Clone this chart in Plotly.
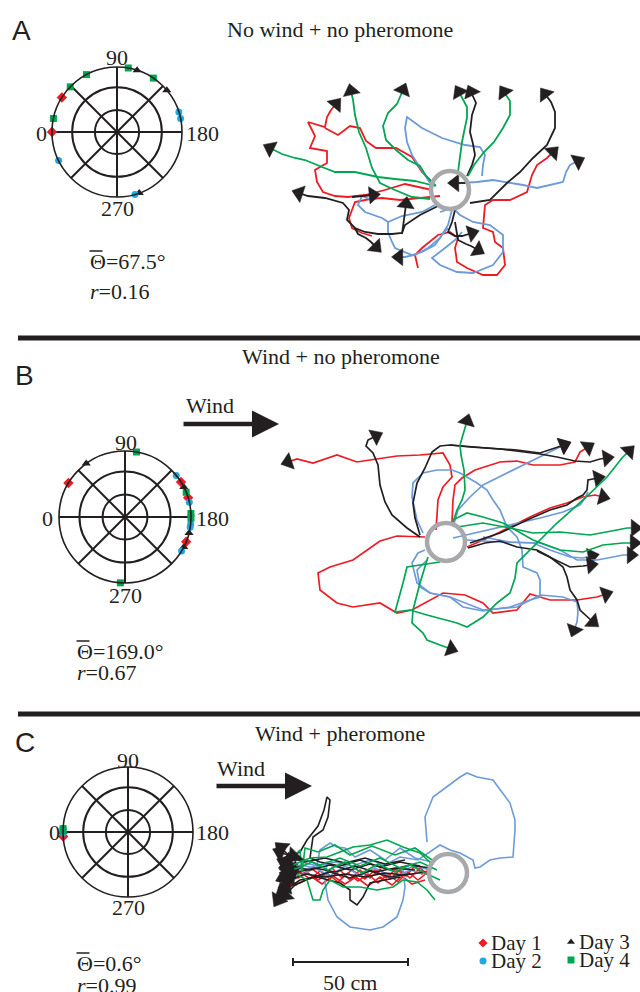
import plotly.graph_objects as go

# ---------------- colours ----------------
RED = '#ed1c24'
CYAN = '#1fa9e1'
BLUE = '#6c9bd7'
GREEN = '#00a651'
BLACK = '#231f20'
GRAY = '#a7a9ac'

# ---------------- polar data (vanishing angles, degrees) ----------------
A_day1 = [32, 0]
A_day2 = [162, 168, 334, 254]
A_day3 = [108, 140, 1, 250]
A_day4 = [100, 124, 62, 44, 12]

B_day1 = [31, 148, 163, 202]
B_day2 = [141, 167, 186, 189, 211]
B_day3 = [54, 153, 194, 207]
B_day4 = [100, 158, 177, 181, 274]

C_day1 = [356]
C_day2 = [359]
C_day3 = [0]
C_day4 = [3, 1]

stats_A = ['67.5', '0.16']
stats_B = ['169.0', '0.67']
stats_C = ['0.6', '0.99']

titles = ['No wind + no pheromone', 'Wind + no pheromone', 'Wind + pheromone']
angle_ticks = [0, 45, 90, 135, 180, 225, 270, 315]
angle_labels = ['0', '90', '180', '270']

# ---------------- trajectories (page-pixel coordinates, arrow flag) ----------------
A_red = [
    ([(432, 190), (405, 184), (385, 190), (365, 195), (348, 197), (335, 196), (323, 192), (317, 182),
      (315, 170), (327, 163), (327, 151), (310, 148), (315, 136), (308, 122), (325, 127), (327, 117),
      (331, 110), (336, 104)], True),
    ([(433, 183), (422, 172), (412, 157), (396, 148), (376, 148), (366, 141), (360, 128), (350, 126),
      (338, 135), (325, 128)], False),
    ([(418, 268), (415, 255), (422, 248), (438, 235), (450, 232), (458, 238), (455, 248), (457, 262),
      (467, 268), (483, 275), (497, 275), (505, 265), (503, 248), (495, 242), (493, 232), (483, 228),
      (485, 205), (493, 200), (510, 200), (527, 192), (532, 175), (537, 165), (547, 158), (553, 152)], True),
    ([(440, 196), (420, 198), (400, 200), (382, 198), (370, 199), (355, 202), (352, 210), (349, 218),
      (352, 228), (362, 233), (372, 236)], False),
]
A_blue = [
    ([(460, 183), (477, 182), (493, 180), (507, 182), (523, 185), (537, 188), (550, 185), (563, 182),
      (566, 172), (570, 165), (578, 161)], True),
    ([(430, 183), (425, 175), (418, 165), (412, 155), (407, 142), (405, 128), (407, 117), (422, 128),
      (442, 138), (455, 142), (465, 145), (480, 147), (485, 155), (483, 165), (482, 176)], False),
    ([(440, 212), (453, 208), (460, 215), (473, 222), (490, 225), (503, 235), (503, 252), (493, 265),
      (473, 273), (457, 272), (440, 265), (432, 258), (445, 248), (455, 240), (462, 232)], False),
    ([(435, 205), (422, 212), (402, 216), (388, 222), (382, 218), (365, 212), (358, 205), (362, 196),
      (372, 200)], False),
    ([(448, 228), (442, 235), (435, 245), (422, 252), (412, 255), (395, 248), (392, 242), (388, 232),
      (388, 222)], False),
    ([(452, 210), (448, 225), (440, 238), (428, 248), (415, 255), (405, 257), (399, 257)], True),
]
A_black = [
    ([(467, 176), (472, 165), (475, 155), (473, 144), (470, 132), (472, 115), (476, 103), (471, 92)], True),
    ([(470, 203), (490, 200), (507, 183), (520, 172), (533, 158), (547, 145), (555, 128), (555, 112),
      (551, 102), (545, 94)], True),
    ([(440, 205), (420, 215), (405, 225), (402, 233), (392, 234), (378, 234), (365, 232), (355, 228),
      (347, 220), (349, 210), (343, 203), (325, 198), (308, 196), (299, 193)], True),
    ([(355, 228), (358, 234), (366, 238), (371, 242), (376, 247)], True),
    ([(455, 210), (452, 222), (448, 232), (455, 236), (462, 236), (472, 233)], True),
    ([(455, 222), (458, 240), (466, 244), (471, 246), (478, 250)], True),
    ([(470, 183), (462, 183), (455, 183)], True),
    ([(352, 197), (362, 196), (373, 195)], True),
    ([(402, 234), (404, 222), (405, 212), (406, 204)], True),
]
A_green = [
    ([(435, 186), (415, 181), (395, 179), (378, 177), (355, 172), (335, 172), (322, 167), (305, 160),
      (295, 158), (282, 154), (270, 148)], True),
    ([(430, 199), (412, 197), (395, 190), (380, 183), (372, 168), (366, 148), (359, 132), (355, 115),
      (353, 100), (351, 91)], True),
    ([(436, 186), (426, 176), (420, 166), (408, 160), (396, 150), (386, 140), (383, 126), (388, 113),
      (397, 104), (400, 97), (403, 90)], True),
    ([(458, 172), (460, 156), (462, 142), (464, 132), (467, 118), (467, 107), (463, 99), (459, 92)], True),
    ([(468, 176), (474, 165), (484, 152), (494, 142), (503, 128), (510, 115), (510, 101), (504, 92)], True),
]

B_red = [
    ([(436, 530), (437, 518), (438, 500), (443, 487), (452, 477), (450, 465), (443, 453), (420, 455),
      (397, 456), (370, 460), (357, 462), (337, 455), (313, 463), (297, 459), (288, 462)], True),
    ([(425, 537), (397, 536), (380, 541), (353, 560), (330, 567), (318, 573), (320, 590), (337, 603),
      (353, 607), (380, 603), (397, 613), (412, 610), (443, 593), (465, 595), (483, 603), (493, 613),
      (517, 610), (530, 594), (550, 600), (577, 600), (597, 597), (606, 594)], True),
    ([(452, 522), (453, 500), (455, 485), (462, 478), (475, 470), (500, 462), (517, 461), (533, 465),
      (560, 465), (575, 462), (580, 452), (588, 447)], True),
    ([(467, 547), (490, 537), (510, 527), (530, 517), (550, 508), (567, 503), (583, 497), (595, 495),
      (603, 497)], True),
]
B_blue = [
    ([(423, 533), (417, 520), (412, 497), (413, 483), (423, 473), (437, 470), (452, 470), (460, 473),
      (477, 483), (487, 490), (493, 500), (500, 510), (507, 527), (517, 537), (522, 550), (523, 567),
      (537, 573), (540, 580), (540, 597), (530, 600), (510, 607), (483, 611), (463, 607), (450, 597),
      (430, 593), (417, 583), (412, 563), (418, 553), (425, 550)], False),
    ([(453, 527), (458, 510), (470, 497), (483, 485), (503, 475), (523, 465), (543, 455), (557, 448),
      (564, 445)], True),
    ([(467, 540), (500, 542), (533, 543), (550, 550), (570, 557), (583, 558), (592, 556)], True),
    ([(453, 538), (480, 532), (510, 525), (540, 518), (563, 512), (580, 505), (585, 498), (588, 492)], False),
    ([(483, 537), (510, 542), (540, 543), (560, 550), (577, 560), (597, 560), (613, 557), (623, 555),
      (631, 555)], True),
    ([(427, 560), (417, 570), (420, 587), (430, 593), (450, 597), (483, 610), (517, 607), (540, 595),
      (563, 597), (577, 602), (578, 612), (577, 622), (574, 630)], True),
]
B_black = [
    ([(420, 537), (407, 528), (392, 515), (385, 502), (380, 485), (378, 465), (373, 453), (366, 446),
      (368, 440), (376, 436)], True),
    ([(420, 535), (415, 518), (413, 503), (417, 483), (425, 468), (432, 452), (440, 446), (450, 445),
      (470, 447), (490, 448), (517, 450), (540, 453), (556, 448), (564, 445)], True),
    ([(450, 445), (500, 449), (540, 454), (557, 457), (575, 461), (590, 462), (600, 459), (607, 458)], True),
    ([(470, 543), (500, 533), (527, 520), (550, 510), (567, 505), (577, 498), (583, 495), (587, 490),
      (588, 480), (598, 478)], True),
    ([(468, 548), (485, 543), (500, 541), (517, 547), (537, 550), (550, 557), (563, 567), (567, 577),
      (570, 590), (577, 600), (580, 610), (587, 617), (593, 622)], True),
    ([(537, 551), (555, 560), (570, 567), (583, 566), (591, 565)], True),
]
B_green = [
    ([(453, 522), (457, 510), (462, 500), (465, 490), (464, 470), (461, 455), (460, 445), (463, 435),
      (465, 428), (467, 421)], True),
    ([(440, 562), (407, 567), (403, 583), (395, 612), (410, 610), (427, 615), (457, 623), (467, 627),
      (483, 617), (497, 603), (510, 593), (515, 578), (517, 563), (537, 543), (557, 523), (583, 500),
      (607, 477), (622, 458), (629, 451)], True),
    ([(428, 557), (424, 570), (420, 583), (413, 610), (412, 623), (423, 633), (427, 640), (440, 645),
      (451, 649)], True),
    ([(457, 527), (483, 523), (510, 528), (533, 533), (560, 532), (590, 535), (617, 530), (627, 528),
      (635, 528)], True),
    ([(453, 520), (467, 513), (483, 517), (503, 523), (533, 540), (560, 550), (583, 552), (603, 545),
      (623, 543), (634, 543)], True),
]

C_red = [
    ([(428, 872), (418, 880), (408, 872), (398, 882), (388, 874), (378, 883), (368, 874), (358, 881),
      (348, 873), (338, 882), (328, 874), (318, 880), (308, 873), (298, 878), (288, 876)], True),
    ([(430, 876), (420, 868), (410, 878), (400, 870), (390, 879), (380, 869), (370, 878), (360, 870),
      (350, 880), (340, 870), (330, 879), (320, 871), (310, 879), (300, 872), (288, 880)], True),
    ([(425, 880), (412, 884), (402, 876), (392, 885), (380, 877), (368, 886), (356, 877), (345, 884),
      (333, 876), (322, 884), (312, 877), (300, 883), (286, 886)], True),
    ([(432, 868), (422, 874), (415, 866), (406, 876), (396, 869), (386, 878), (375, 870), (365, 879),
      (352, 870), (342, 878), (332, 868), (322, 876), (312, 869), (302, 874), (292, 872)], True),
]
C_blue = [
    ([(427, 842), (425, 817), (433, 797), (447, 787), (460, 777), (467, 773), (477, 777), (493, 780),
      (500, 790), (510, 803), (515, 820), (515, 830), (513, 857), (500, 858), (490, 860), (480, 867),
      (475, 868), (473, 860), (460, 853), (450, 850), (440, 845), (430, 852), (418, 860), (400, 857),
      (385, 865), (370, 860), (352, 866), (335, 862), (318, 866), (300, 862), (286, 866)], True),
    ([(430, 870), (415, 866), (403, 870), (405, 887), (403, 900), (397, 917), (383, 927), (370, 930),
      (350, 927), (337, 917), (328, 900), (325, 883), (327, 862), (315, 868), (300, 865), (287, 868)], True),
    ([(432, 862), (415, 858), (400, 848), (385, 860), (370, 850), (355, 857), (345, 848), (337, 847),
      (330, 843), (320, 850), (317, 865), (305, 870), (292, 870)], True),
    ([(430, 875), (410, 870), (392, 878), (375, 868), (360, 876), (345, 866), (330, 876), (315, 868),
      (300, 876), (287, 874)], True),
]
C_black = [
    ([(430, 868), (410, 865), (390, 870), (370, 864), (350, 870), (330, 865), (310, 870), (296, 867),
      (284, 862)], True),
    ([(400, 877), (383, 880), (370, 883), (363, 897), (357, 905), (350, 900), (350, 890), (340, 883),
      (317, 877), (300, 880), (282, 892)], True),
    ([(420, 866), (400, 862), (380, 867), (360, 860), (340, 866), (320, 862), (310, 858), (313, 837),
      (323, 830), (328, 817), (330, 800), (327, 797), (324, 810), (318, 826), (307, 840), (300, 852),
      (290, 856), (280, 852)], True),
    ([(425, 872), (405, 875), (385, 873), (365, 877), (345, 874), (325, 877), (305, 874), (290, 880),
      (278, 900)], True),
    ([(415, 870), (395, 868), (375, 872), (355, 866), (335, 872), (315, 868), (298, 872), (283, 878)], True),
    ([(410, 874), (390, 877), (370, 871), (350, 878), (330, 872), (310, 878), (295, 885), (285, 895)], True),
    ([(405, 860), (385, 864), (365, 858), (345, 863), (325, 858), (305, 862), (292, 858), (281, 848)], True),
]
C_green = [
    ([(433, 865), (420, 853), (403, 847), (387, 840), (370, 845), (353, 847), (340, 852), (327, 857),
      (310, 858), (300, 862), (288, 867)], True),
    ([(435, 900), (427, 890), (417, 882), (403, 880), (393, 887), (377, 890), (360, 887), (343, 887),
      (330, 880), (323, 890), (320, 900), (313, 900), (310, 890), (307, 880), (293, 872)], True),
    ([(437, 870), (420, 862), (400, 868), (380, 858), (360, 866), (340, 858), (320, 865), (300, 858),
      (288, 862)], True),
    ([(432, 860), (415, 848), (395, 855), (372, 846), (350, 855), (335, 845), (318, 852), (305, 848),
      (302, 872), (300, 850), (294, 856)], True),
    ([(440, 880), (425, 873), (410, 865), (395, 872), (378, 864), (362, 873), (345, 862), (328, 870),
      (312, 862), (298, 868), (290, 870)], True),
]

sources = [(450, 190), (446, 542), (448, 873)]

fig = go.Figure()


def add_paths(paths, color, width, head):
    for pts, arrow in paths:
        xs = [p[0] for p in pts]
        ys = [p[1] for p in pts]
        sizes = [0] * len(pts)
        if arrow:
            sizes[-1] = head
        fig.add_trace(go.Scatter(
            x=xs, y=ys, mode='lines+markers',
            line=dict(color=color, width=width),
            marker=dict(size=sizes, symbol='triangle-up', angleref='previous',
                        color=BLACK, opacity=1, line=dict(width=0.5, color=BLACK)),
            hoverinfo='skip', showlegend=False))


for red, blue, black, green, w, head in [
    (A_red, A_blue, A_black, A_green, 1.8, 15),
    (B_red, B_blue, B_black, B_green, 1.7, 15),
    (C_red, C_blue, C_black, C_green, 1.6, 16),
]:
    add_paths(red, RED, w, head)
    add_paths(blue, BLUE, w, head)
    add_paths(black, BLACK, w, head)
    add_paths(green, GREEN, w, head)

# odour source rings
fig.add_trace(go.Scatter(
    x=[s[0] for s in sources], y=[s[1] for s in sources], mode='markers',
    marker=dict(symbol='circle-open', size=38, color=GRAY, line=dict(width=4.5, color=GRAY)),
    hoverinfo='skip', showlegend=False))

# scale bar (50 cm)
fig.add_trace(go.Scatter(x=[293, 408], y=[962, 962], mode='lines',
                         line=dict(color=BLACK, width=2), showlegend=False, hoverinfo='skip'))
fig.add_trace(go.Scatter(x=[293, 293, None, 408, 408], y=[958, 966, None, 958, 966], mode='lines',
                         line=dict(color=BLACK, width=2), showlegend=False, hoverinfo='skip'))

# legend entries (drawn as markers + text)
leg_labels = ['Day 1', 'Day 2', 'Day 3', 'Day 4']
leg_sym = ['diamond', 'circle', 'triangle-up', 'square']
leg_col = [RED, CYAN, BLACK, GREEN]
leg_x = [483, 483, 571, 571]
leg_y = [943, 961, 942, 960]
for lab, sym, col, lx, ly in zip(leg_labels, leg_sym, leg_col, leg_x, leg_y):
    fig.add_trace(go.Scatter(x=[lx], y=[ly], mode='markers',
                             marker=dict(symbol=sym, size=7, color=col),
                             showlegend=False, hoverinfo='skip'))
    fig.add_annotation(x=lx + 6, y=ly, xref='x', yref='y', text=lab, showarrow=False,
                       xanchor='left', yanchor='middle',
                       font=dict(family='Liberation Serif', size=21, color=BLACK))

# ---------------- polar plots ----------------
polar_domains = [
    dict(x=[52 / 640, 182 / 640], y=[795 / 992, 925 / 992]),
    dict(x=[59 / 640, 191 / 640], y=[409 / 992, 541 / 992]),
    dict(x=[63 / 640, 193 / 640], y=[95 / 992, 225 / 992]),
]
polar_data = [
    (A_day1, A_day2, A_day3, A_day4),
    (B_day1, B_day2, B_day3, B_day4),
    (C_day1, C_day2, C_day3, C_day4),
]
# angular tick-label positions (0, 90, 180, 270) for each polar panel
label_xy = [
    [(41, 133), (117, 57), (202, 133), (117, 208)],
    [(47, 518), (126, 442), (212, 518), (125, 595)],
    [(54, 832), (128, 760), (212, 832), (128, 907)],
]
for i, (d1, d2, d3, d4) in enumerate(polar_data):
    sub = 'polar' if i == 0 else 'polar%d' % (i + 1)
    for angles, sym, col, sz in [(d3, 'triangle-up', BLACK, 8), (d1, 'diamond', RED, 8),
                                  (d2, 'circle', CYAN, 7), (d4, 'square', GREEN, 7)]:
        fig.add_trace(go.Scatterpolar(
            r=[1] * len(angles), theta=angles, mode='markers', subplot=sub,
            marker=dict(symbol=sym, size=sz, color=col), cliponaxis=False,
            showlegend=False, hoverinfo='skip'))
    fig.update_layout(**{sub: dict(
        domain=polar_domains[i],
        bgcolor='white',
        radialaxis=dict(range=[0, 1], tickvals=[0.34, 0.69], showticklabels=False,
                        showline=False, ticks='', gridcolor=BLACK, gridwidth=1.5),
        angularaxis=dict(direction='clockwise', rotation=180, tickmode='array',
                         tickvals=angle_ticks, showticklabels=False, ticks='',
                         showline=True, linecolor=BLACK, linewidth=1.6,
                         gridcolor=BLACK, gridwidth=1.5),
    )})
    for lab, (lx, ly) in zip(angle_labels, label_xy[i]):
        fig.add_annotation(x=lx, y=ly, xref='x', yref='y', text=lab, showarrow=False,
                           font=dict(family='Liberation Serif', size=22, color=BLACK))

# ---------------- texts ----------------
serif = dict(family='Liberation Serif', size=22, color=BLACK)
sans = dict(family='Liberation Sans', size=28, color=BLACK)
letter_pos = [(21, 30), (24, 375), (25, 742)]
for letter, (lx, ly) in zip(['A', 'B', 'C'], letter_pos):
    fig.add_annotation(x=lx, y=ly, xref='x', yref='y', text=letter, showarrow=False, font=sans)
title_pos = [(340, 29), (341, 356), (340, 733)]
for t, (tx, ty) in zip(titles, title_pos):
    fig.add_annotation(x=tx, y=ty, xref='x', yref='y', text=t, showarrow=False, font=serif)

stat_pos = [(88, 261, 291), (75, 651, 672), (75, 963, 985)]
for (theta, r), (sx, y1, y2) in zip([stats_A, stats_B, stats_C], stat_pos):
    fig.add_annotation(x=sx, y=y1, xref='x', yref='y', text='\u0398=' + theta + '\u00b0',
                       showarrow=False, xanchor='left', font=serif)
    # overbar of the mean-angle symbol
    fig.add_shape(type='line', x0=sx + 1.5, x1=sx + 14.5, y0=y1 - 10, y1=y1 - 10, xref='x', yref='y',
                  line=dict(color=BLACK, width=1.5))
    fig.add_annotation(x=sx, y=y2, xref='x', yref='y', text='<i>r</i>=' + r,
                       showarrow=False, xanchor='left', font=serif)

# wind arrows
for (tx, ty), (x0, x1, ya) in zip([(210, 405), (241, 768)], [(182, 279, 424), (215, 312, 786)]):
    fig.add_annotation(x=tx, y=ty, xref='x', yref='y', text='Wind', showarrow=False, font=serif)
    fig.add_annotation(x=x1, y=ya, ax=x0, ay=ya, xref='x', yref='y', axref='x', ayref='y',
                       text='', showarrow=True, arrowhead=2, arrowsize=1.2, arrowwidth=4.5,
                       arrowcolor=BLACK, standoff=0)

fig.add_annotation(x=350, y=982, xref='x', yref='y', text='50 cm', showarrow=False, font=serif)

# separators
for yy in [338, 714]:
    fig.add_shape(type='line', x0=18, x1=640, y0=yy, y1=yy, xref='x', yref='y',
                  line=dict(color=BLACK, width=5))

fig.update_layout(
    width=640, height=992,
    margin=dict(l=0, r=0, t=0, b=0),
    paper_bgcolor='white', plot_bgcolor='white',
    xaxis=dict(range=[0, 640], domain=[0, 1], visible=False, fixedrange=True),
    yaxis=dict(range=[992, 0], domain=[0, 1], visible=False, fixedrange=True),
    showlegend=False,
)

fig.write_html('out.html', config={'displayModeBar': False},
               post_script="document.body.style.margin='0';document.body.style.overflow='hidden';")
